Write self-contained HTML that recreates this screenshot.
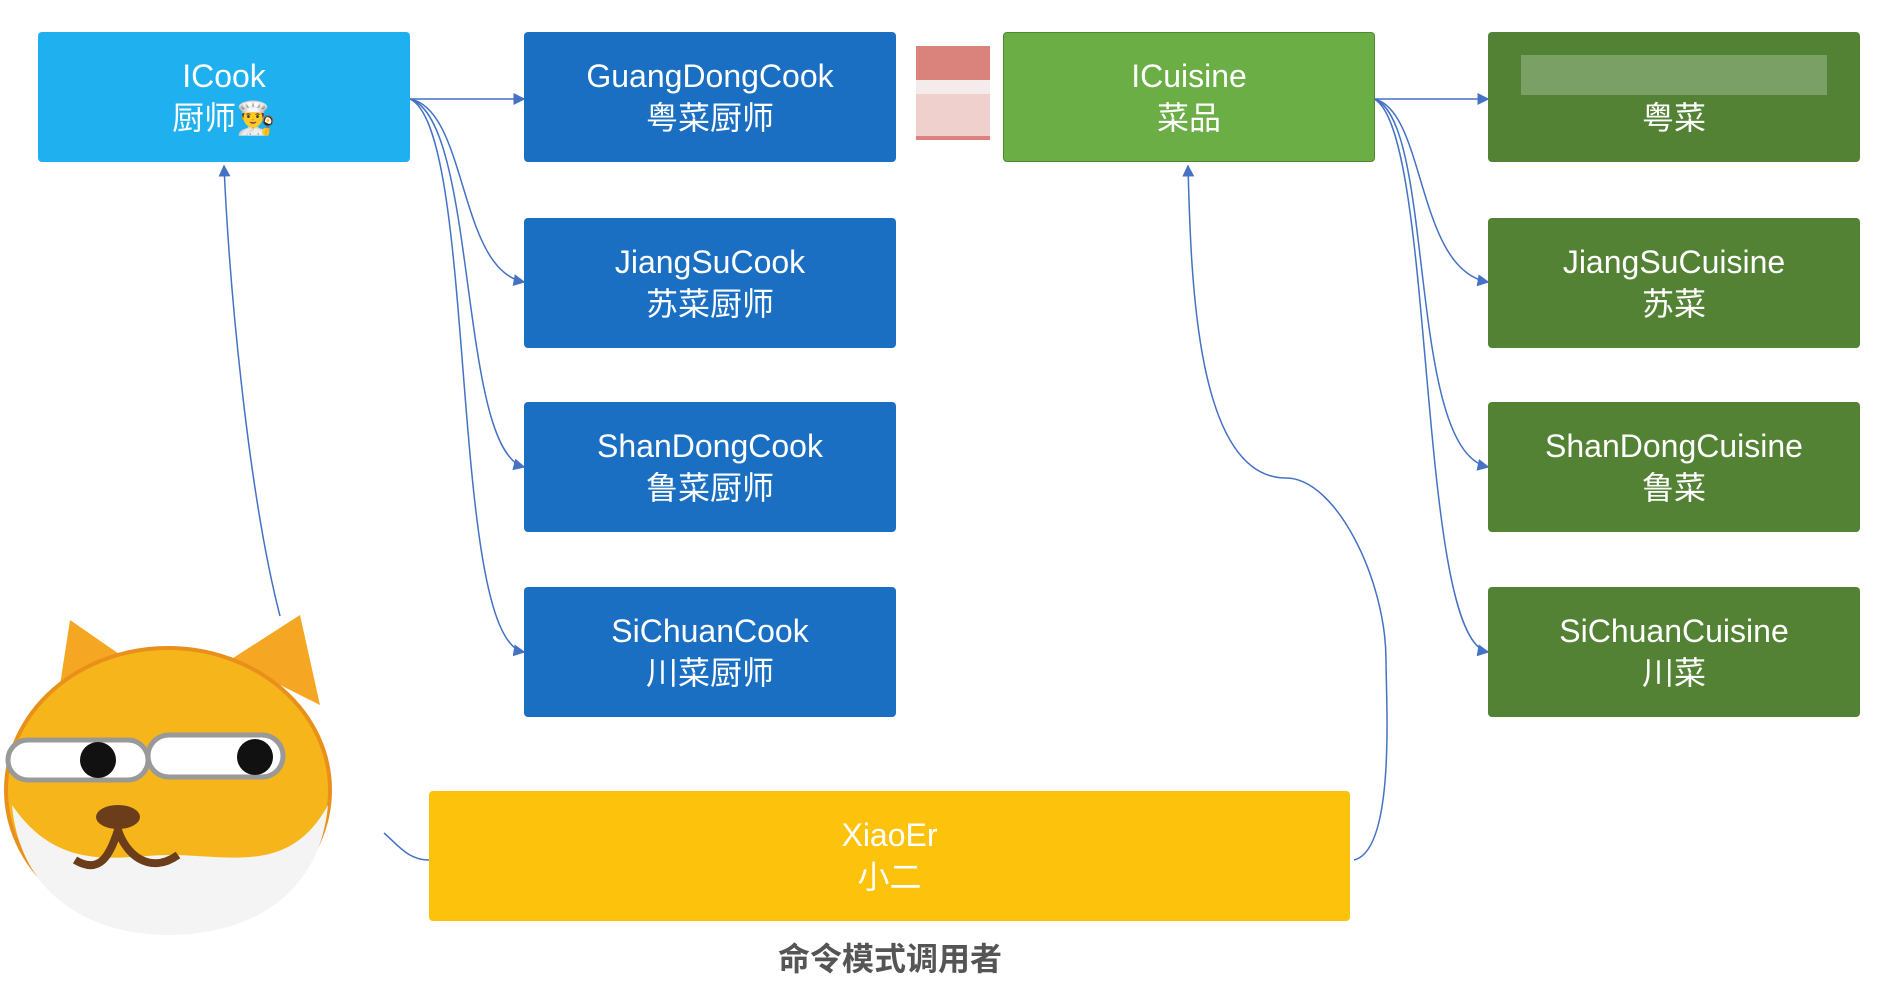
<!DOCTYPE html>
<html><head><meta charset="utf-8"><style>
body{margin:0;width:1884px;height:986px;background:#fff;position:relative;overflow:hidden;font-family:"Liberation Sans","Noto Sans CJK SC",sans-serif}
.b{position:absolute;width:372px;height:130px;color:#fff;font-size:32px;line-height:42px;display:flex;flex-direction:column;justify-content:center;align-items:center;border-radius:4px}
.c1{background:#1eb0ef}.bl{background:#1b6fc3}.g1{background:#6cae46;border:1px solid #4d8a2f}.g2{background:#548235}
</style></head><body>
<svg width="1884" height="986" style="position:absolute;left:0;top:0" fill="none" stroke="#4472c4" stroke-width="1.5">
<defs><marker id="a" markerWidth="8" markerHeight="8" refX="7" refY="4" orient="auto"><path d="M0,0L8,4L0,8z" fill="#4472c4" stroke="none"/></marker></defs>
<path d="M410,99 L524,99" marker-end="url(#a)"/>
<path d="M410,99 C468,110 458,270 524,282" marker-end="url(#a)"/>
<path d="M410,99 C478,120 458,450 524,467" marker-end="url(#a)"/>
<path d="M410,99 C478,130 448,640 524,652" marker-end="url(#a)"/>
<path d="M1374,99 L1488,99" marker-end="url(#a)"/>
<path d="M1374,99 C1426,110 1416,270 1488,282" marker-end="url(#a)"/>
<path d="M1374,99 C1436,120 1406,450 1488,467" marker-end="url(#a)"/>
<path d="M1374,99 C1436,130 1416,640 1488,652" marker-end="url(#a)"/>
<path d="M280,616 C250,500 230,300 224,166" marker-end="url(#a)"/>
<path d="M1354,860 C1396,850 1386,700 1386,660 C1386,580 1336,478 1286,478 C1196,478 1191,280 1188,166" marker-end="url(#a)"/>
<path d="M429,860 C408,860 398,845 384,833"/>
</svg>
<div class="b c1" style="left:38px;top:32px">ICook<span>厨师👨‍🍳</span></div>
<div class="b bl" style="left:524px;top:32px">GuangDongCook<span>粤菜厨师</span></div>
<div class="b bl" style="left:524px;top:218px">JiangSuCook<span>苏菜厨师</span></div>
<div class="b bl" style="left:524px;top:402px">ShanDongCook<span>鲁菜厨师</span></div>
<div class="b bl" style="left:524px;top:587px">SiChuanCook<span>川菜厨师</span></div>
<div style="position:absolute;left:916px;top:46px;width:74px;height:34px;background:#d9837c"></div>
<div style="position:absolute;left:916px;top:80px;width:74px;height:14px;background:#f4ecea"></div>
<div style="position:absolute;left:916px;top:94px;width:74px;height:42px;background:#f0d0cd"></div>
<div style="position:absolute;left:916px;top:136px;width:74px;height:4px;background:#d9837c"></div>
<div class="b g1" style="left:1003px;top:32px;width:370px;height:128px">ICuisine<span>菜品</span></div>
<div class="b g2" style="left:1488px;top:32px"><span style="display:block;width:306px;height:40px;background:#7aa066;margin-bottom:2px"></span><span>粤菜</span></div>
<div class="b g2" style="left:1488px;top:218px">JiangSuCuisine<span>苏菜</span></div>
<div class="b g2" style="left:1488px;top:402px">ShanDongCuisine<span>鲁菜</span></div>
<div class="b g2" style="left:1488px;top:587px">SiChuanCuisine<span>川菜</span></div>
<div class="b" style="left:429px;top:791px;width:921px;background:#fcc20c">XiaoEr<span>小二</span></div>
<div style="position:absolute;left:690px;top:934px;width:400px;text-align:center;font-size:32px;font-weight:bold;color:#555">命令模式调用者</div>
<svg width="340" height="340" style="position:absolute;left:0;top:605px">
<path d="M60,80 L70,15 L135,60 Z" fill="#f5a623"/>
<path d="M230,55 L300,10 L320,100 Z" fill="#f5a623"/>
<ellipse cx="168" cy="185" rx="162" ry="142" fill="#f7b51c" stroke="#e8901a" stroke-width="4"/>
<path d="M12,200 C60,270 120,250 170,250 C230,250 290,270 328,200 C320,290 250,330 168,330 C90,330 20,290 12,200 Z" fill="#f4f4f4"/>
<rect x="8" y="135" width="140" height="40" rx="20" fill="#fff" stroke="#999" stroke-width="5"/>
<rect x="148" y="130" width="135" height="42" rx="21" fill="#fff" stroke="#999" stroke-width="5"/>
<circle cx="98" cy="155" r="18" fill="#111"/>
<circle cx="255" cy="152" r="18" fill="#111"/>
<ellipse cx="118" cy="212" rx="22" ry="12" fill="#6b3d1a"/>
<path d="M75,255 C100,270 110,250 118,225 C126,250 150,270 178,250" stroke="#6b3d1a" stroke-width="8" fill="none"/>
</svg>
</body></html>
